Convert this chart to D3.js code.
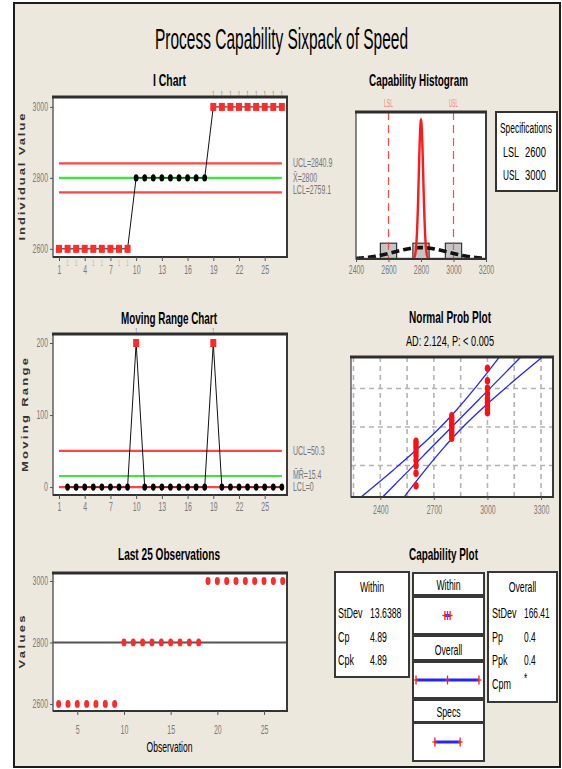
<!DOCTYPE html>
<html>
<head>
<meta charset="utf-8">
<script src="https://cdn.jsdelivr.net/npm/d3@7"></script>
<style>
  html, body { margin: 0; padding: 0; background: #ffffff; }
  svg { display: block; }
  text { font-family: "Liberation Sans", Arial, sans-serif; }
</style>
</head>
<body>
<svg id="chart" width="562" height="769"></svg>
<script>
// ---- Speed measurements, in observation order ----
const observations = [
  2600, 2600, 2600, 2600, 2600, 2600, 2600, 2600, 2600,
  2800, 2800, 2800, 2800, 2800, 2800, 2800, 2800, 2800,
  3000, 3000, 3000, 3000, 3000, 3000, 3000, 3000, 3000
];
// moving ranges for observations 2..27
const movingRanges = [
  0, 0, 0, 0, 0, 0, 0, 0, 200,
  0, 0, 0, 0, 0, 0, 0, 0, 200,
  0, 0, 0, 0, 0, 0, 0, 0
];

// control limits (upper, centre, lower)
const iLimitValues  = [2840.9, 2800, 2759.1];
const iLimitLabels  = ["UCL=2840.9", "X\u0304=2800", "LCL=2759.1"];
const mrLimitValues = [50.3, 15.4, 0];
const mrLimitLabels = ["UCL=50.3", "M\u0304R\u0304=15.4", "LCL=0"];

// specifications
const specNames  = ["LSL", "USL"];
const specValues = [2600, 3000];

// capability statistics
const processMean     = 2800;
const withinStDev     = 13.6388;
const overallStDev    = 166.41;
const withinNames     = ["StDev", "Cp", "Cpk"];
const withinValues    = ["13.6388", "4.89", "4.89"];
const overallNames    = ["StDev", "Pp", "Ppk", "Cpm"];
const overallValues   = ["166.41", "0.4", "0.4", "*"];
const adText          = "AD: 2.124, P: < 0.005";

// axis ticks
const obsTicks      = [1, 4, 7, 10, 13, 16, 19, 22, 25];
const iTicksY       = [2600, 2800, 3000];
const mrTicksY      = [0, 100, 200];
const histTicks     = [2400, 2600, 2800, 3000, 3200];
const histEdges     = [2450, 2550, 2650, 2750, 2850, 2950, 3050, 3150];
const probTicks     = [2400, 2700, 3000, 3300];
const probGridX     = [2250, 2400, 2550, 2700, 2850, 3000, 3150, 3300];
const probGridPct   = [10, 50, 90];
const probRangePct  = [1, 99];
const lastTicksX    = [5, 10, 15, 20, 25];
const lastTicksY    = [2600, 2800, 3000];

// ---- helpers ----
const svg = d3.select("#chart");
const root = svg.append("g");
const fmt = d3.format("d");

const RED = "#ff2a2a", LIMIT_RED = "#ff4444", GREEN = "#3de63d", BLUE = "#2424ff";

function label(parent, x, y, str, o = {}) {
  const t = parent.append("text")
    .attr("x", x).attr("y", y).text(str)
    .attr("font-size", o.size || 12)
    .attr("font-weight", o.weight || "normal")
    .attr("fill", o.fill || "#000")
    .attr("text-anchor", o.anchor || "start")
    .attr("class", "sq");
  if (o.baseline) t.attr("dominant-baseline", o.baseline);
  if (o.w) t.attr("data-w", o.w); else t.attr("data-f", o.f || 0.62);
  return t;
}

function axisTitle(x, y, str, len) {
  root.append("text")
    .attr("transform", `translate(${x},${y}) rotate(-90) scale(1,0.75)`)
    .attr("text-anchor", "middle")
    .attr("dominant-baseline", "middle")
    .attr("font-size", 13).attr("font-weight", "bold").attr("fill", "#333")
    .attr("textLength", len).attr("lengthAdjust", "spacing")
    .text(str);
}

function panelBg(b) {
  root.append("rect")
    .attr("x", b.x0).attr("y", b.y0)
    .attr("width", b.x1 - b.x0).attr("height", b.y1 - b.y0)
    .attr("fill", "#fff");
}
function panelBorder(b) {
  const g = root.append("g");
  g.append("rect")
    .attr("x", b.x0).attr("y", b.y0)
    .attr("width", b.x1 - b.x0).attr("height", b.y1 - b.y0)
    .attr("fill", "none").attr("stroke", "#4a4a4a").attr("stroke-width", 1.3);
  g.append("line").attr("x1", b.x0 - 1).attr("x2", b.x1 + 1)
    .attr("y1", b.y0).attr("y2", b.y0)
    .attr("stroke", "#2e2e2e").attr("stroke-width", 3.2);
  g.append("line").attr("x1", b.x0).attr("x2", b.x1 + 1)
    .attr("y1", b.y1).attr("y2", b.y1)
    .attr("stroke", "#333").attr("stroke-width", 1.8);
  g.append("line").attr("x1", b.x1).attr("x2", b.x1)
    .attr("y1", b.y0).attr("y2", b.y1)
    .attr("stroke", "#333").attr("stroke-width", 1.8);
}
function styleAxis(g) {
  g.attr("font-family", null).attr("font-size", 12);
  g.select(".domain").remove();
  g.selectAll("line").attr("stroke", "#555");
  g.selectAll("text").attr("fill", "#7a7a7a").attr("class", "sq").attr("data-f", 0.58);
}
function redSquare(g, x, y) {
  g.append("rect").attr("x", x - 3).attr("y", y - 4)
    .attr("width", 6).attr("height", 8).attr("fill", RED);
}
function dot(g, x, y, color, rx, ry) {
  g.append("ellipse").attr("cx", x).attr("cy", y)
    .attr("rx", rx).attr("ry", ry).attr("fill", color);
}

// normal density and inverse normal CDF
function normPdf(x, m, s) {
  const z = (x - m) / s;
  return Math.exp(-0.5 * z * z) / (s * Math.sqrt(2 * Math.PI));
}
function normInv(p) {
  const a = [-3.969683028665376e+01, 2.209460984245205e+02, -2.759285104469687e+02, 1.383577518672690e+02, -3.066479806614716e+01, 2.506628277459239e+00];
  const b = [-5.447609879822406e+01, 1.615858368580409e+02, -1.556989798598866e+02, 6.680131188771972e+01, -1.328068155288572e+01];
  const c = [-7.784894002430293e-03, -3.223964580411365e-01, -2.400758277161838e+00, -2.549732539343734e+00, 4.374664141464968e+00, 2.938163982698783e+00];
  const d = [7.784695709041462e-03, 3.224671290700398e-01, 2.445134137142996e+00, 3.754408661907416e+00];
  const pl = 0.02425;
  let q, r;
  if (p < pl) {
    q = Math.sqrt(-2 * Math.log(p));
    return (((((c[0]*q+c[1])*q+c[2])*q+c[3])*q+c[4])*q+c[5]) / ((((d[0]*q+d[1])*q+d[2])*q+d[3])*q+1);
  }
  if (p <= 1 - pl) {
    q = p - 0.5; r = q * q;
    return (((((a[0]*r+a[1])*r+a[2])*r+a[3])*r+a[4])*r+a[5])*q / (((((b[0]*r+b[1])*r+b[2])*r+b[3])*r+b[4])*r+1);
  }
  q = Math.sqrt(-2 * Math.log(1 - p));
  return -(((((c[0]*q+c[1])*q+c[2])*q+c[3])*q+c[4])*q+c[5]) / ((((d[0]*q+d[1])*q+d[2])*q+d[3])*q+1);
}

// ---- outer frame and title ----
root.append("rect").attr("x", 14).attr("y", 3).attr("width", 546).attr("height", 764)
  .attr("fill", "#ECE8DE").attr("stroke", "#1c1c1c").attr("stroke-width", 2);
label(root, 281.5, 49, "Process Capability Sixpack of Speed", { size: 29, anchor: "middle", w: 253 });

const n = observations.length;
const obsPoints = observations.map((v, i) => ({ k: i + 1, v }));

// ================= I Chart =================
const boxI = { x0: 53, x1: 287, y0: 97, y1: 257 };
const xObs = d3.scaleLinear().domain([0.3, 27.6]).range([boxI.x0, boxI.x1]);
const yI = d3.scaleLinear().domain([2577, 3028]).range([boxI.y1, boxI.y0]);
label(root, 169.5, 86, "I Chart", { size: 17, weight: "bold", anchor: "middle", w: 33 });
panelBg(boxI);
{
  const g = root.append("g");
  const colors = [LIMIT_RED, GREEN, LIMIT_RED];
  iLimitValues.forEach((v, i) => {
    g.append("line").attr("x1", xObs(1)).attr("x2", xObs(n))
      .attr("y1", yI(v)).attr("y2", yI(v))
      .attr("stroke", colors[i]).attr("stroke-width", 2.2);
  });
  g.append("path").datum(obsPoints)
    .attr("d", d3.line().x(d => xObs(d.k)).y(d => yI(d.v)))
    .attr("fill", "none").attr("stroke", "#111").attr("stroke-width", 1);
  obsPoints.forEach(d => {
    const out = d.v > iLimitValues[0] || d.v < iLimitValues[2];
    if (out) redSquare(g, xObs(d.k), yI(d.v));
    else dot(g, xObs(d.k), yI(d.v), "#000", 2.4, 3.6);
  });
  // test-failure labels ("1"); below-axis ones are left out where a tick label already sits
  obsPoints.forEach(d => {
    if (d.v > iLimitValues[0]) label(g, xObs(d.k), boxI.y0 - 0.5, "1", { size: 9, anchor: "middle", fill: "#666", f: 0.4 });
    else if (d.v < iLimitValues[2] && !obsTicks.includes(d.k))
      label(g, xObs(d.k), boxI.y1 + 9, "1", { size: 9, anchor: "middle", fill: "#aaa", f: 0.4 });
  });
  iLimitLabels.forEach((s, i) => {
    label(g, boxI.x1 + 6, yI(iLimitValues[i]) + [0, 0, -2][i], s,
      { size: 12, fill: "#767676", baseline: "central", f: 0.58 });
  });
}
panelBorder(boxI);
styleAxis(root.append("g").attr("transform", `translate(${boxI.x0},0)`)
  .call(d3.axisLeft(yI).tickValues(iTicksY).tickFormat(fmt).tickSize(3).tickPadding(2)));
styleAxis(root.append("g").attr("transform", `translate(0,${boxI.y1})`)
  .call(d3.axisBottom(xObs).tickValues(obsTicks).tickFormat(fmt).tickSize(4).tickPadding(4)));
axisTitle(22, 177, "Individual Value", 127);

// ================= Moving Range Chart =================
const boxMR = { x0: 53, x1: 287, y0: 334, y1: 495 };
const yMR = d3.scaleLinear().domain([-11, 212.5]).range([boxMR.y1, boxMR.y0]);
const mrPoints = movingRanges.map((v, i) => ({ k: i + 2, v }));
label(root, 169, 324, "Moving Range Chart", { size: 17, weight: "bold", anchor: "middle", w: 96 });
panelBg(boxMR);
{
  const g = root.append("g");
  const colors = [LIMIT_RED, GREEN, LIMIT_RED];
  mrLimitValues.forEach((v, i) => {
    g.append("line").attr("x1", xObs(1)).attr("x2", xObs(n))
      .attr("y1", yMR(v)).attr("y2", yMR(v))
      .attr("stroke", colors[i]).attr("stroke-width", 2.2);
  });
  g.append("path").datum(mrPoints)
    .attr("d", d3.line().x(d => xObs(d.k)).y(d => yMR(d.v)))
    .attr("fill", "none").attr("stroke", "#111").attr("stroke-width", 1);
  mrPoints.forEach(d => {
    if (d.v > mrLimitValues[0]) {
      redSquare(g, xObs(d.k), yMR(d.v));
      label(g, xObs(d.k), boxMR.y0 - 0.5, "1", { size: 9, anchor: "middle", fill: "#666", f: 0.4 });
    } else dot(g, xObs(d.k), yMR(d.v), "#000", 2.4, 3.6);
  });
  const dy = [0, -1, 0];
  mrLimitLabels.forEach((s, i) => {
    label(g, boxMR.x1 + 6, yMR(mrLimitValues[i]) + dy[i], s,
      { size: 12, fill: "#767676", baseline: "central", f: 0.58 });
  });
}
panelBorder(boxMR);
styleAxis(root.append("g").attr("transform", `translate(${boxMR.x0},0)`)
  .call(d3.axisLeft(yMR).tickValues(mrTicksY).tickFormat(fmt).tickSize(3).tickPadding(2)));
styleAxis(root.append("g").attr("transform", `translate(0,${boxMR.y1})`)
  .call(d3.axisBottom(xObs).tickValues(obsTicks).tickFormat(fmt).tickSize(4).tickPadding(3)));
axisTitle(25, 415, "Moving Range", 114);

// ================= Last 25 Observations =================
const boxL = { x0: 53, x1: 287, y0: 573, y1: 711 };
const xL = d3.scaleLinear().domain([2.4, 27.46]).range([boxL.x0, boxL.x1]);
const yL = d3.scaleLinear().domain([2577, 3026]).range([boxL.y1, boxL.y0]);
const lastPoints = obsPoints.slice(-25);
label(root, 169, 560, "Last 25 Observations", { size: 17, weight: "bold", anchor: "middle", w: 102 });
panelBg(boxL);
{
  const g = root.append("g");
  const m = d3.mean(observations);
  g.append("line").attr("x1", boxL.x0).attr("x2", boxL.x1)
    .attr("y1", yL(m)).attr("y2", yL(m))
    .attr("stroke", "#555").attr("stroke-width", 2);
  lastPoints.forEach(d => dot(g, xL(d.k), yL(d.v), RED, 2.5, 3.9));
}
panelBorder(boxL);
styleAxis(root.append("g").attr("transform", `translate(${boxL.x0},0)`)
  .call(d3.axisLeft(yL).tickValues(lastTicksY).tickFormat(fmt).tickSize(3).tickPadding(2)));
styleAxis(root.append("g").attr("transform", `translate(0,${boxL.y1})`)
  .call(d3.axisBottom(xL).tickValues(lastTicksX).tickFormat(fmt).tickSize(4).tickPadding(10)));
axisTitle(22, 642, "Values", 53);
label(root, 169.5, 752, "Observation", { size: 14, anchor: "middle", w: 46 });

// ================= Capability Histogram =================
const boxH = { x0: 356, x1: 486, y0: 112, y1: 259 };
const xH = d3.scaleLinear().domain([2400, 3200]).range([boxH.x0, boxH.x1]);
const withinPeak = normPdf(processMean, processMean, withinStDev);
const yH = d3.scaleLinear().domain([0, withinPeak * 1.06]).range([boxH.y1, boxH.y0]);
label(root, 418.5, 86, "Capability Histogram", { size: 17, weight: "bold", anchor: "middle", w: 99 });
panelBg(boxH);
{
  svg.append("clipPath").attr("id", "clipH").append("rect")
    .attr("x", boxH.x0).attr("y", boxH.y0)
    .attr("width", boxH.x1 - boxH.x0).attr("height", boxH.y1 - boxH.y0);
  const g = root.append("g").attr("clip-path", "url(#clipH)");
  const bins = d3.bin().domain([histEdges[0], histEdges[histEdges.length - 1]])
    .thresholds(histEdges.slice(1, -1))(observations);
  bins.filter(b => b.length > 0).forEach(b => {
    const dens = b.length / (n * (b.x1 - b.x0));
    g.append("rect").attr("x", xH(b.x0)).attr("y", yH(dens))
      .attr("width", xH(b.x1) - xH(b.x0)).attr("height", yH(0) - yH(dens))
      .attr("fill", "#c4c4c4").attr("stroke", "#333").attr("stroke-width", 1.2);
  });
  specValues.forEach(v => {
    g.append("line").attr("x1", xH(v)).attr("x2", xH(v))
      .attr("y1", boxH.y0).attr("y2", boxH.y1)
      .attr("stroke", "#ff4a4a").attr("stroke-width", 1.2).attr("stroke-dasharray", "8,5");
  });
  const grid = d3.range(2400, 3200.5, 1);
  g.append("path").datum(grid)
    .attr("d", d3.line().x(x => xH(x)).y(x => yH(normPdf(x, processMean, overallStDev))))
    .attr("fill", "none").attr("stroke", "#111").attr("stroke-width", 3.6)
    .attr("stroke-dasharray", "8,4");
  g.append("path").datum(grid)
    .attr("d", d3.line().x(x => xH(x)).y(x => yH(normPdf(x, processMean, withinStDev))))
    .attr("fill", "none").attr("stroke", "#ff1a1a").attr("stroke-width", 2.4);
  specNames.forEach((s, i) => label(root, xH(specValues[i]), 106.5, s,
    { size: 10, anchor: "middle", fill: "#ff7a7a", w: 9 }));
}
panelBorder(boxH);
styleAxis(root.append("g").attr("transform", `translate(0,${boxH.y1})`)
  .call(d3.axisBottom(xH).tickValues(histTicks).tickFormat(fmt).tickSize(3).tickPadding(3)));

// specifications box
{
  const g = root.append("g");
  g.append("rect").attr("x", 496).attr("y", 112).attr("width", 61).attr("height", 79)
    .attr("fill", "#fff").attr("stroke", "#333").attr("stroke-width", 2);
  label(g, 526, 133, "Specifications", { size: 14, anchor: "middle", w: 52 });
  specNames.forEach((s, i) => {
    label(g, 503, 157 + i * 23, s, { size: 14, w: 16 });
    label(g, 546, 157 + i * 23, fmt(specValues[i]), { size: 14, anchor: "end", w: 21 });
  });
}

// ================= Normal Probability Plot =================
const boxP = { x0: 351, x1: 553, y0: 357, y1: 497 };
const xP = d3.scaleLinear().domain([2236, 3367]).range([boxP.x0, boxP.x1]);
const yP = d3.scaleLinear()
  .domain([normInv(probRangePct[0] / 100), normInv(probRangePct[1] / 100)])
  .range([boxP.y1, boxP.y0]);
label(root, 450, 323, "Normal Prob Plot", { size: 17, weight: "bold", anchor: "middle", w: 82 });
label(root, 450, 346, adText, { size: 14, anchor: "middle", w: 88 });
panelBg(boxP);
{
  svg.append("clipPath").attr("id", "clipP").append("rect")
    .attr("x", boxP.x0).attr("y", boxP.y0)
    .attr("width", boxP.x1 - boxP.x0).attr("height", boxP.y1 - boxP.y0);
  const g = root.append("g").attr("clip-path", "url(#clipP)");
  probGridX.forEach(v => g.append("line")
    .attr("x1", xP(v)).attr("x2", xP(v)).attr("y1", boxP.y0).attr("y2", boxP.y1)
    .attr("stroke", "#b4b4b4").attr("stroke-width", 1.6).attr("stroke-dasharray", "5,4"));
  probGridPct.forEach(p => g.append("line")
    .attr("x1", boxP.x0).attr("x2", boxP.x1).attr("y1", yP(normInv(p / 100))).attr("y2", yP(normInv(p / 100)))
    .attr("stroke", "#b4b4b4").attr("stroke-width", 1.6).attr("stroke-dasharray", "5,4"));

  // fitted line with 95% confidence bands
  const zs = d3.range(-2.7, 2.71, 0.05);
  const se = 1.96 * overallStDev / Math.sqrt(n);
  const fit = z => processMean + z * overallStDev;
  const band = z => se * Math.sqrt(1 + z * z / 2);
  [z => fit(z) - band(z), z => fit(z), z => fit(z) + band(z)].forEach(fx => {
    g.append("path").datum(zs)
      .attr("d", d3.line().x(z => xP(fx(z))).y(z => yP(z)))
      .attr("fill", "none").attr("stroke", BLUE).attr("stroke-width", 1.3);
  });

  const sorted = observations.slice().sort(d3.ascending);
  sorted.forEach((v, i) => {
    const p = (i + 1 - 0.3) / (n + 0.4);
    dot(g, xP(v), yP(normInv(p)), "#ff1010", 2.7, 3.8);
  });
}
panelBorder(boxP);
styleAxis(root.append("g").attr("transform", `translate(0,${boxP.y1})`)
  .call(d3.axisBottom(xP).tickValues(probTicks).tickFormat(fmt).tickSize(3).tickPadding(5)));

// ================= Capability Plot =================
label(root, 443.5, 560, "Capability Plot", { size: 17, weight: "bold", anchor: "middle", w: 69 });
function statBox(x0, y0, x1, y1) {
  root.append("rect").attr("x", x0).attr("y", y0)
    .attr("width", x1 - x0).attr("height", y1 - y0)
    .attr("fill", "#fff").attr("stroke", "#383838").attr("stroke-width", 2);
}
{
  // within statistics
  statBox(335, 572, 409, 677);
  label(root, 372, 592, "Within", { size: 15, anchor: "middle", f: 0.58 });
  withinNames.forEach((s, i) => {
    label(root, 338, 618 + i * 23.5, s, { size: 15, f: 0.6 });
    label(root, 370, 618 + i * 23.5, withinValues[i], { size: 15, f: 0.58 });
  });
  // overall statistics
  statBox(488, 572, 557, 702);
  label(root, 522.5, 592, "Overall", { size: 15, anchor: "middle", f: 0.58 });
  overallNames.forEach((s, i) => {
    label(root, 492, 618 + i * 23.5, s, { size: 15, f: 0.6 });
    label(root, 524, 618 + i * 23.5 - (overallValues[i] === "*" ? 6 : 0), overallValues[i], { size: 15, f: 0.56 });
  });

  // interval bars
  const xC = d3.scaleLinear()
    .domain([processMean - 3 * overallStDev, processMean + 3 * overallStDev])
    .range([416, 479]);
  const rows = [
    { title: "Within",  head: [573, 595], plot: [597, 634], ends: [processMean - 3 * withinStDev, processMean + 3 * withinStDev], mid: true },
    { title: "Overall", head: [636, 660], plot: [662, 698], ends: [processMean - 3 * overallStDev, processMean + 3 * overallStDev], mid: true },
    { title: "Specs",   head: [700, 722], plot: [723, 761], ends: specValues, mid: false }
  ];
  rows.forEach(r => {
    statBox(413, r.head[0], 484, r.head[1]);
    statBox(413, r.plot[0], 484, r.plot[1]);
    label(root, 448.5, r.head[1] - 5.5, r.title, { size: 15, anchor: "middle", f: 0.58 });
    const yc = (r.plot[0] + r.plot[1]) / 2;
    root.append("line").attr("x1", xC(r.ends[0])).attr("x2", xC(r.ends[1]))
      .attr("y1", yc).attr("y2", yc).attr("stroke", BLUE).attr("stroke-width", 3);
    const marks = r.mid ? [r.ends[0], processMean, r.ends[1]] : r.ends;
    marks.forEach(v => {
      root.append("line").attr("x1", xC(v)).attr("x2", xC(v))
        .attr("y1", yc - 4.5).attr("y2", yc + 4.5).attr("stroke", "#ff2020").attr("stroke-width", 1.3);
      root.append("line").attr("x1", xC(v) - 2.5).attr("x2", xC(v) + 2.5)
        .attr("y1", yc).attr("y2", yc).attr("stroke", "#ff2020").attr("stroke-width", 1.3);
    });
  });
}

// squeeze text horizontally to the narrow face used throughout the chart
svg.selectAll("text.sq").each(function () {
  const w = +this.getAttribute("data-w") || this.getComputedTextLength() * (+this.getAttribute("data-f"));
  this.setAttribute("textLength", w);
  this.setAttribute("lengthAdjust", "spacingAndGlyphs");
});
</script>
</body>
</html>
